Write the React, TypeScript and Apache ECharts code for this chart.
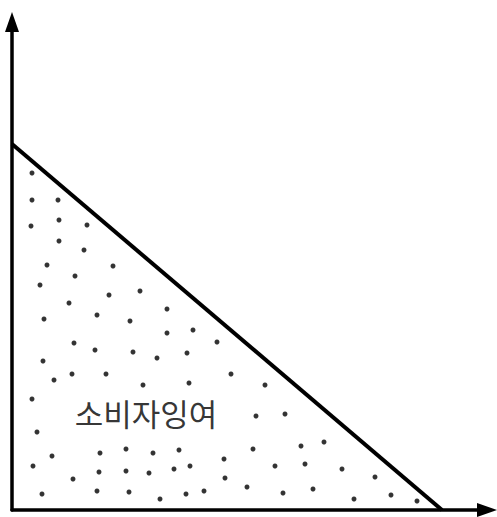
import React, { useEffect, useRef } from "react";
import * as echarts from "echarts";

// Demand line endpoints (quantity, price)
const demandLine: [number, number][] = [
  [0, 366],
  [430, 0],
];

// Dots filling the consumer-surplus triangle
const dotX = [
  20, 20, 46, 19, 47, 75, 47, 72, 35, 101, 63, 28, 97, 128, 57, 155, 32, 85, 118, 155,
  62, 83, 121, 145, 31, 60, 94, 42, 131, 181, 205, 175, 219, 177, 253, 20, 25, 40, 88, 114,
  141, 21, 87, 114, 137, 61, 30, 85, 117, 148, 244, 273, 167, 162, 178, 212, 241, 289, 213, 263,
  293, 174, 192, 235, 271, 312, 330, 363, 301, 342, 379, 405,
];
const dotY = [
  337, 310, 310, 284, 290, 285, 269, 260, 245, 244, 234, 225, 215, 219, 207, 201, 191, 195, 189, 177,
  167, 160, 158, 152, 149, 136, 136, 130, 125, 180, 168, 157, 136, 127, 125, 111, 78, 54, 57, 61,
  57, 44, 38, 39, 37, 31, 16, 19, 18, 11, 94, 96, 60, 41, 44, 51, 61, 64, 32, 44,
  46, 16, 19, 23, 17, 68, 41, 33, 21, 11, 15, 9,
];

const labelText = "소비자잉여";
const labelPos: [number, number] = [134, 98];

export default function App() {
  const ref = useRef<HTMLDivElement>(null);
  useEffect(() => {
    if (!ref.current) return;
    const chart = echarts.init(ref.current, null, { renderer: "svg" });
    const dots = dotX.map((x, i) => [x, dotY[i]]);
    chart.setOption({
      animation: false,
      backgroundColor: "#ffffff",
      grid: { left: 12, right: 10, top: 22, bottom: 7, containLabel: false },
      xAxis: {
        type: "value",
        min: 0,
        max: 475,
        axisLine: {
          show: true,
          onZero: false,
          symbol: ["none", "triangle"],
          symbolSize: [14, 20],
          lineStyle: { color: "#000", width: 3.5 },
        },
        axisTick: { show: false },
        axisLabel: { show: false },
        splitLine: { show: false },
      },
      yAxis: {
        type: "value",
        min: 0,
        max: 488,
        axisLine: {
          show: true,
          onZero: false,
          symbol: ["none", "triangle"],
          symbolSize: [14, 20],
          lineStyle: { color: "#000", width: 3.5 },
        },
        axisTick: { show: false },
        axisLabel: { show: false },
        splitLine: { show: false },
      },
      series: [
        {
          type: "line",
          data: demandLine,
          symbol: "none",
          lineStyle: { color: "#000", width: 4 },
          z: 3,
        },
        {
          type: "scatter",
          data: dots,
          symbol: "circle",
          symbolSize: 5,
          itemStyle: { color: "#000" },
          z: 2,
        },
        {
          type: "scatter",
          data: [labelPos],
          symbolSize: 0,
          label: {
            show: true,
            position: "inside",
            formatter: labelText,
            color: "#000",
            fontSize: 31,
            fontFamily: "Noto Sans CJK KR",
            fontWeight: "normal",
          },
          z: 4,
        },
      ],
    });
    return () => chart.dispose();
  }, []);
  return (
    <div
      ref={ref}
      style={{ position: "absolute", left: 0, top: 0, width: 497, height: 517 }}
    />
  );
}
